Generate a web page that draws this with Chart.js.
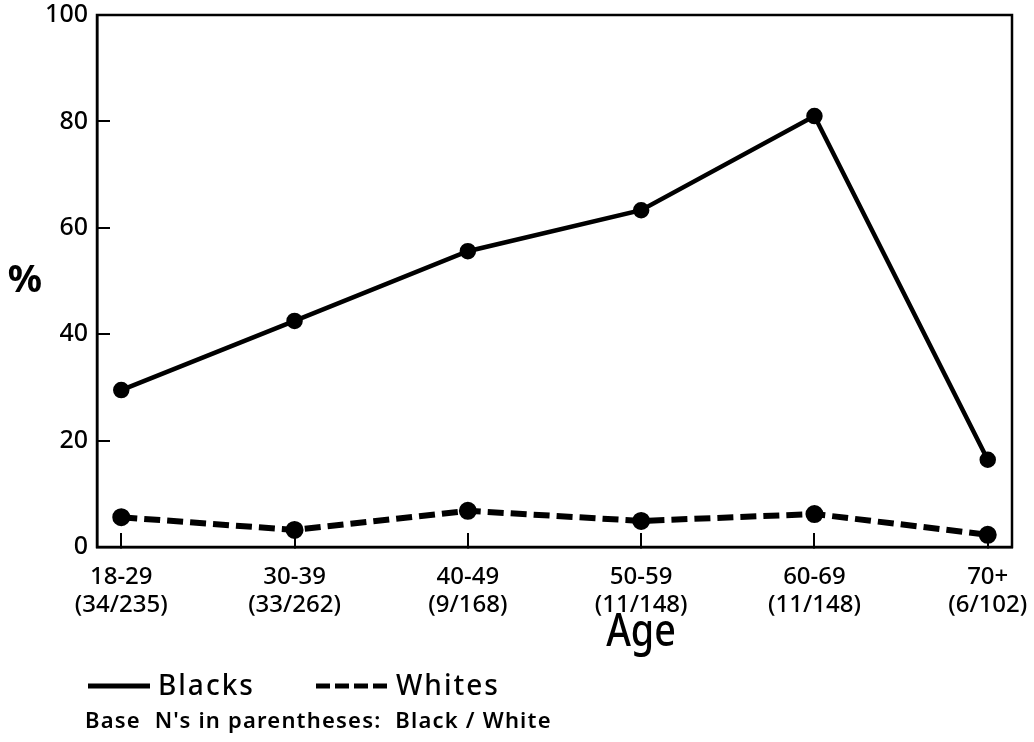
<!DOCTYPE html>
<html>
<head>
<meta charset="utf-8">
<script src="https://cdn.jsdelivr.net/npm/chart.js@4/dist/chart.umd.min.js"></script>
<style>
	html, body { margin: 0; padding: 0; background: #fff; }
	canvas { display: block; }
</style>
</head>
<body>
<canvas id="chart" width="1034" height="742"></canvas>
<script>

// data
var ageGroups = ['18-29', '30-39', '40-49', '50-59', '60-69', '70+'];
var baseNs = ['(34/235)', '(33/262)', '(9/168)', '(11/148)', '(11/148)', '(6/102)'];
var blacks = [29.5, 42.5, 55.6, 63.3, 81.0, 16.4];
var whites = [5.6, 3.2, 6.8, 4.9, 6.2, 2.3];
var yTicks = [0, 20, 40, 60, 80, 100];

var FONT = '"Noto Sans", "DejaVu Sans", sans-serif';

function toPoints(values) {
	return values.map(function(v, i) { return { x: i, y: v }; });
}

// closed frame, legend and notes
var decorations = {
	id: 'decorations',
	afterDraw: function(chart) {
		var ctx = chart.ctx;
		var area = chart.chartArea;

		ctx.save();
		ctx.strokeStyle = '#000';
		ctx.fillStyle = '#000';
		ctx.lineWidth = 2.5;
		ctx.strokeRect(area.left, area.top, area.right - area.left, area.bottom - area.top);

		ctx.textBaseline = 'middle';
		ctx.textAlign = 'center';
		ctx.font = 'bold 38px ' + FONT;
		ctx.fillText('%', 25, 281);

		ctx.save();
		ctx.translate(641, 633);
		ctx.scale(0.82, 1);
		ctx.font = '500 46px ' + FONT;
		ctx.fillText('Age', 0, 0);
		ctx.restore();

		// legend
		var sets = chart.data.datasets;
		ctx.textAlign = 'left';
		ctx.font = '500 28px ' + FONT;
		ctx.letterSpacing = '2px';
		[[88, 150, 158], [316, 388, 396]].forEach(function(pos, i) {
			ctx.lineWidth = 5;
			ctx.setLineDash(i === 1 ? [14, 5] : []);
			ctx.beginPath();
			ctx.moveTo(pos[0], 686);
			ctx.lineTo(pos[1], 686);
			ctx.stroke();
			ctx.setLineDash([]);
			ctx.fillText(sets[i].label, pos[2], 687);
		});

		ctx.font = '600 22px ' + FONT;
		ctx.letterSpacing = '1.2px';
		ctx.fillText("Base  N's in parentheses:  Black / White", 85, 722);
		ctx.restore();
	}
};

new Chart(document.getElementById('chart'), {
	type: 'line',
	data: {
		datasets: [{
			label: 'Blacks',
			data: toPoints(blacks),
			borderColor: '#000',
			backgroundColor: '#000',
			borderWidth: 4.5,
			pointRadius: 6,
			pointHoverRadius: 6
		}, {
			label: 'Whites',
			data: toPoints(whites),
			borderColor: '#000',
			backgroundColor: '#000',
			borderWidth: 6,
			borderDash: [16, 7],
			pointRadius: 6,
			pointHoverRadius: 6
		}]
	},
	plugins: [decorations],
	options: {
		responsive: false,
		animation: false,
		layout: { padding: { top: 15, right: 22, bottom: 0, left: 0 } },
		plugins: {
			legend: { display: false },
			tooltip: { enabled: false }
		},
		scales: {
			x: {
				type: 'linear',
				min: -0.14,
				max: 5.14,
				afterBuildTicks: function(scale) {
					scale.ticks = ageGroups.map(function(a, i) { return { value: i }; });
				},
				afterFit: function(scale) {
					scale.height = 195;
					scale.paddingLeft = 0;
					scale.paddingRight = 0;
				},
				// negative tick length puts the marks inside the frame
				grid: { display: true, drawOnChartArea: false, drawTicks: true, tickLength: -14, color: '#000', lineWidth: 2 },
				border: { display: true, color: '#000', width: 2.5 },
				ticks: {
					color: '#000',
					padding: 30,
					maxRotation: 0,
					autoSkip: false,
					font: { family: FONT, size: 24, weight: '500', lineHeight: 1.17 },
					callback: function(v) { return [ageGroups[v], baseNs[v]]; }
				}
			},
			y: {
				min: 0,
				max: 100,
				afterBuildTicks: function(scale) {
					scale.ticks = yTicks.map(function(t) { return { value: t }; });
				},
				afterFit: function(scale) {
					scale.width = 97;
					scale.paddingTop = 0;
					scale.paddingBottom = 0;
				},
				grid: { display: true, drawOnChartArea: false, drawTicks: true, tickLength: -13, color: '#000', lineWidth: 2 },
				border: { display: true, color: '#000', width: 2.5 },
				ticks: {
					color: '#000',
					padding: 22,
					font: { family: FONT, size: 25, weight: '500' }
				}
			}
		}
	}
});

</script>
</body>
</html>
